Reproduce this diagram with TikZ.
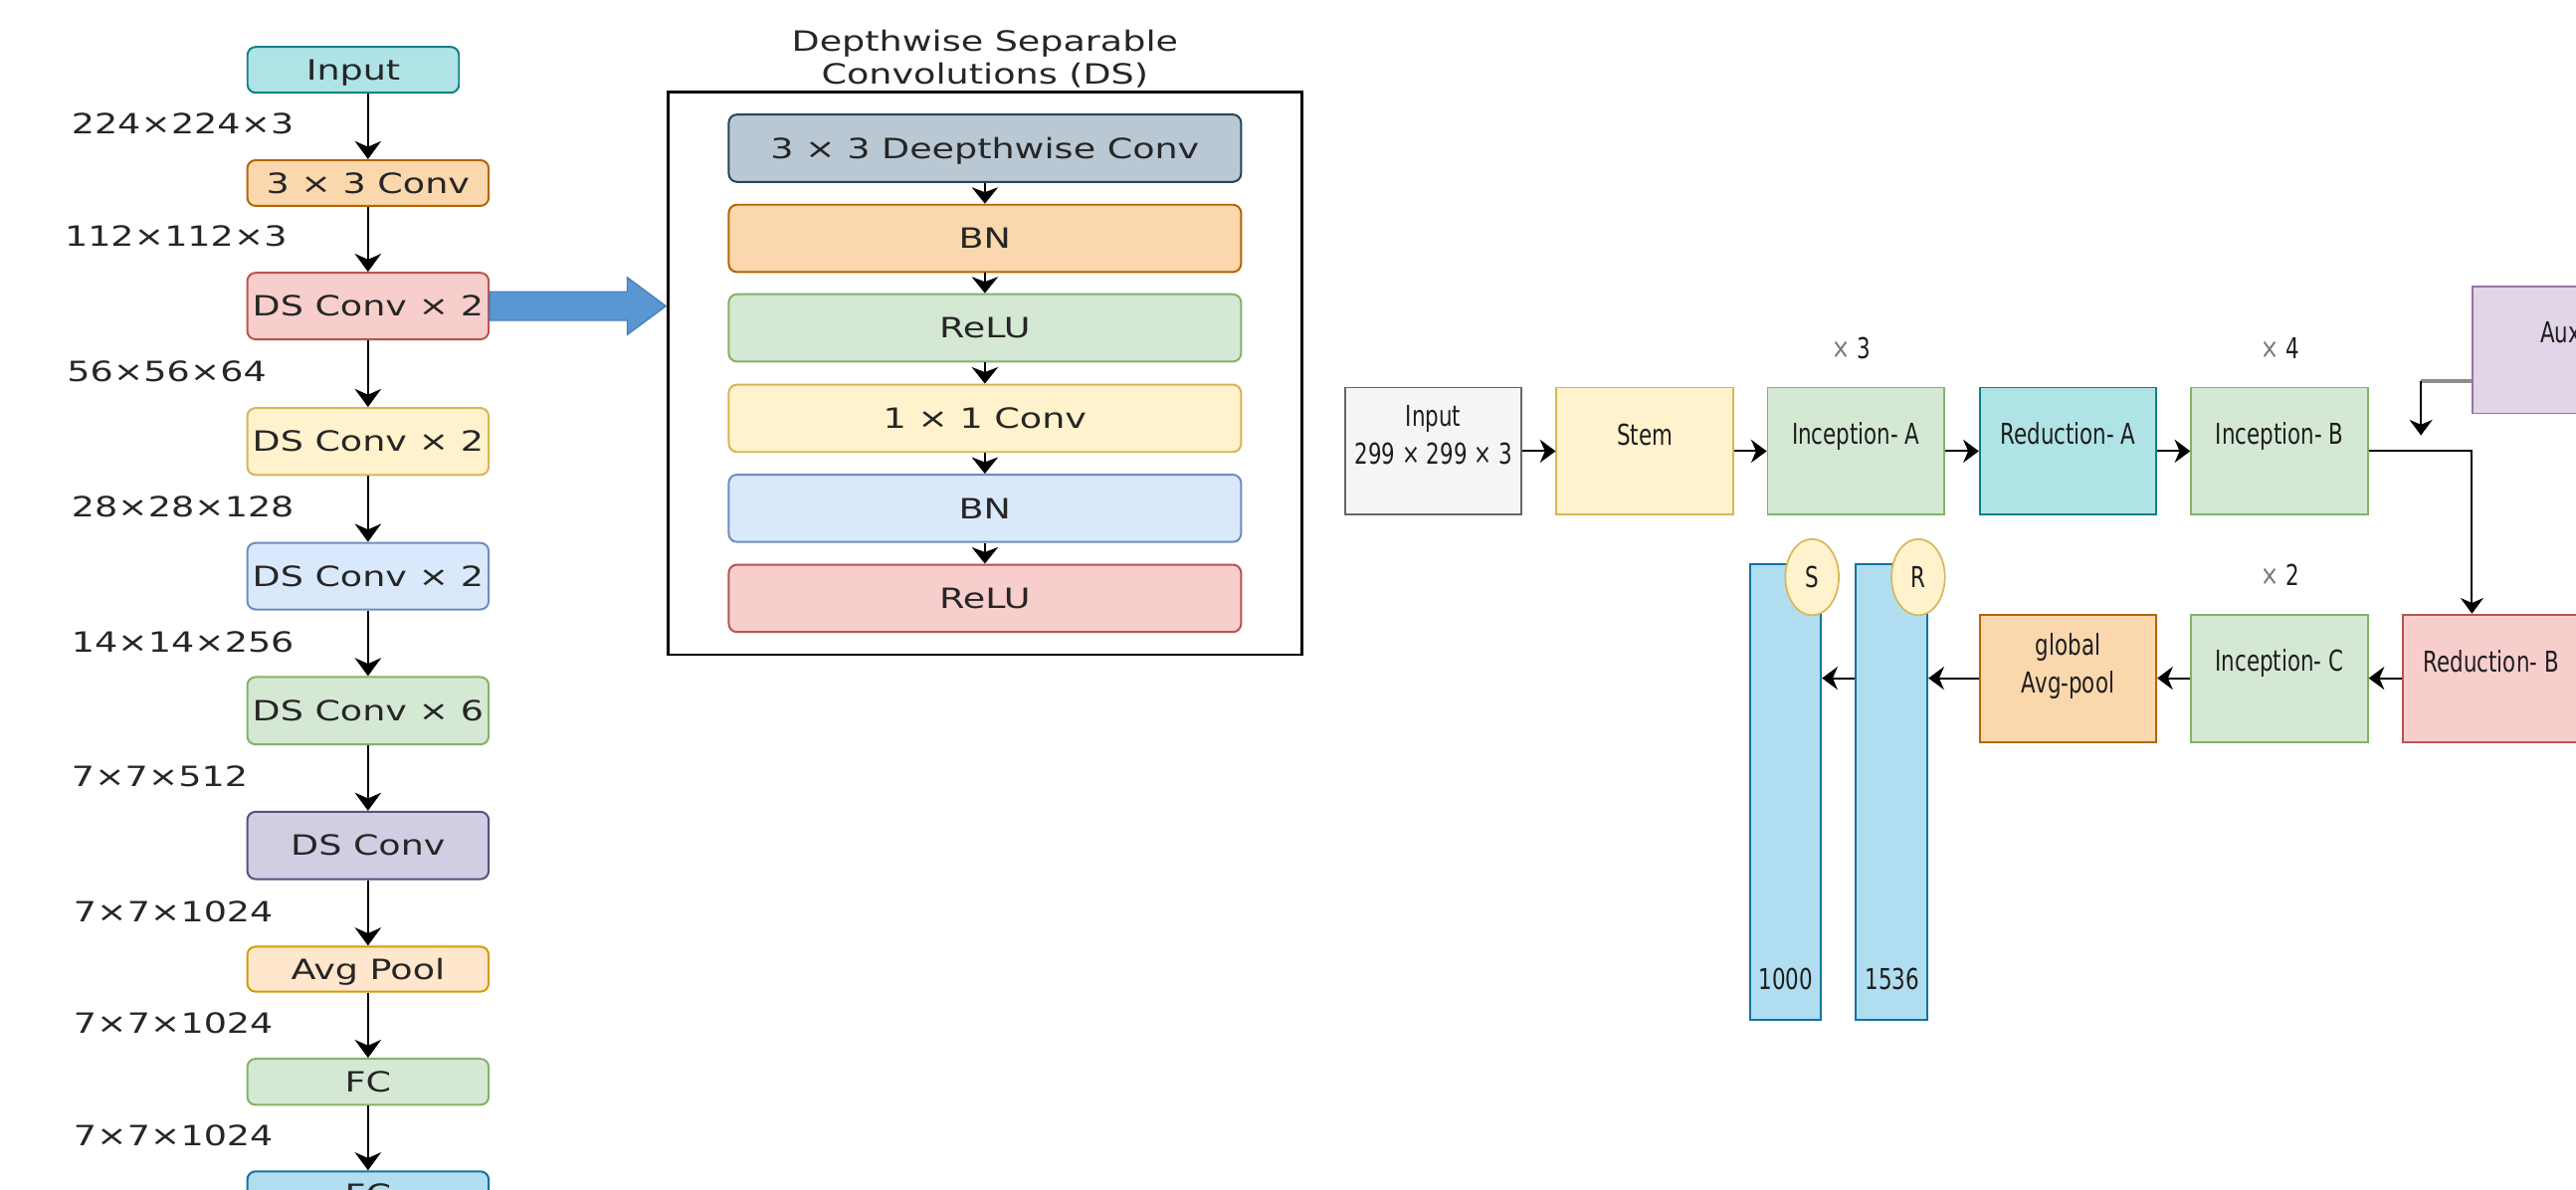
\documentclass[tikz,border=0pt]{standalone}
\usepackage{fontspec}
\setmainfont{DejaVu Sans}
\newfontfamily\widesans[FakeStretch=1.3]{DejaVu Sans}
\newfontfamily\narrowsans[FakeStretch=0.74]{DejaVu Sans}
\usetikzlibrary{arrows.meta,calc,shapes.geometric}

% fills and strokes
\definecolor{tealF}{HTML}{B0E3E6}\definecolor{tealD}{HTML}{0E8088}
\definecolor{orangeF}{HTML}{FAD7AC}\definecolor{orangeD}{HTML}{B46504}
\definecolor{redF}{HTML}{F8CECC}\definecolor{redD}{HTML}{B85450}
\definecolor{yelF}{HTML}{FFF2CC}\definecolor{yelD}{HTML}{D6B656}
\definecolor{bluF}{HTML}{DAE8FC}\definecolor{bluD}{HTML}{6C8EBF}
\definecolor{grnF}{HTML}{D5E8D4}\definecolor{grnD}{HTML}{82B366}
\definecolor{purF}{HTML}{D0CEE2}\definecolor{purD}{HTML}{56517E}
\definecolor{peachF}{HTML}{FFE6CC}\definecolor{peachD}{HTML}{D79B00}
\definecolor{skyF}{HTML}{B1DDF0}\definecolor{skyD}{HTML}{10739E}
\definecolor{slateF}{HTML}{BAC8D3}\definecolor{slateD}{HTML}{23445D}
\definecolor{grayF}{HTML}{F5F5F5}\definecolor{grayD}{HTML}{666666}
\definecolor{lilacF}{HTML}{E1D5E7}\definecolor{lilacD}{HTML}{9673A6}
\definecolor{bigarrF}{HTML}{5A96D2}\definecolor{bigarrD}{HTML}{4A7FB5}
\definecolor{txtL}{HTML}{262626}\definecolor{txtR}{HTML}{1E1E1E}
\definecolor{auxline}{HTML}{8C8C8C}\definecolor{multgray}{HTML}{777777}

\tikzset{
  lfont/.style={font=\widesans\fontsize{17}{19.7}\selectfont},
  rfont/.style={font=\narrowsans\fontsize{17.5}{23}\selectfont},
  lbox/.style={draw, rounded corners=5pt, line width=1.2pt, minimum width=146.9pt,
    inner sep=0pt, text height=12.4pt, text depth=0pt, text=txtL, lfont},
  ibox/.style={lbox, minimum width=311.8pt, minimum height=41pt},
  dimlabel/.style={anchor=west, inner sep=0pt, text height=12.4pt, text depth=0pt,
    text=txtL, lfont},
  rbox/.style={draw, line width=1.1pt, minimum width=107.5pt, minimum height=77.5pt,
    inner sep=0pt},
  rtext/.style={inner sep=0pt, text height=12.8pt, text depth=0pt, text=txtR, rfont},
  rmulti/.style={inner sep=0pt, align=center, text=txtR, rfont},
  bar/.style={draw=skyD, fill=skyF, line width=1.1pt, minimum width=43pt,
    minimum height=277.2pt, inner sep=0pt},
  badge/.style={ellipse, draw=yelD, fill=yelF, line width=1pt, minimum width=32.5pt,
    minimum height=46.4pt, inner sep=0pt, text height=12.8pt, text depth=0pt,
    text=txtR, rfont},
  larr/.style={line width=1.4pt, -{Stealth[length=11pt,width=16pt,inset=3.5pt]}},
  iarr/.style={line width=1.3pt, -{Stealth[length=10pt,width=16pt,inset=3pt]}},
  rarr/.style={line width=1.2pt, -{Stealth[length=9.5pt,width=14pt,inset=3pt]}},
}

\begin{document}
\begin{tikzpicture}[x=1pt,y=-1pt]
\fill[white] (0,0) rectangle (1568,724);
\path[use as bounding box] (0,0) rectangle (1568,724);

% ---------------- MobileNet column ----------------
\node[lbox, fill=tealF, draw=tealD, minimum width=128.7pt, minimum height=27.9pt] (inp) at (215,42.5) {Input};
\node[lbox, fill=orangeF, draw=orangeD, minimum height=27.8pt] (conv) at (224,111.4) {3 × 3 Conv};
\node[lbox, fill=redF, draw=redD, minimum height=40.5pt] (dsa) at (224,186.3) {DS Conv × 2};
\node[lbox, fill=yelF, draw=yelD, minimum height=40.7pt] (dsb) at (224,268.7) {DS Conv × 2};
\node[lbox, fill=bluF, draw=bluD, minimum height=40.5pt] (dsc) at (224,350.7) {DS Conv × 2};
\node[lbox, fill=grnF, draw=grnD, minimum height=41pt] (dsd) at (224,432.6) {DS Conv × 6};
\node[lbox, fill=purF, draw=purD, minimum height=41pt] (dse) at (224,514.6) {DS Conv};
\node[lbox, fill=peachF, draw=peachD, minimum height=27.4pt] (avg) at (224,589.9) {Avg Pool};
\node[lbox, fill=grnF, draw=grnD, minimum height=28pt] (fca) at (224,658.5) {FC};
\node[lbox, fill=skyF, draw=skyD, minimum height=28pt] (fcb) at (224,727) {FC};

\draw[larr] (conv.north |- inp.south) -- (conv.north);
\draw[larr] (conv.south) -- (dsa.north);
\draw[larr] (dsa.south) -- (dsb.north);
\draw[larr] (dsb.south) -- (dsc.north);
\draw[larr] (dsc.south) -- (dsd.north);
\draw[larr] (dsd.south) -- (dse.north);
\draw[larr] (dse.south) -- (avg.north);
\draw[larr] (avg.south) -- (fca.north);
\draw[larr] (fca.south) -- (fcb.north);

\node[dimlabel] (d1) at (43.3,75.4) {224×224×3};
\node[dimlabel] (d2) at (39.2,143.9) {112×112×3};
\node[dimlabel] (d3) at (40.6,226.3) {56×56×64};
\node[dimlabel] (d4) at (43.3,308.7) {28×28×128};
\node[dimlabel] (d5) at (43.3,390.6) {14×14×256};
\node[dimlabel] (d6) at (43.3,472.7) {7×7×512};
\node[dimlabel] (d7) at (44.6,554.8) {7×7×1024};
\node[dimlabel] (d8) at (44.6,622.6) {7×7×1024};
\node[dimlabel] (d9) at (44.6,691.1) {7×7×1024};

% ---------------- depthwise separable block ----------------
\node[draw=black, line width=1.5pt, minimum width=385.9pt, minimum height=342.5pt,
  inner sep=0pt] (dsbox) at (599.55,227.25) {};
\node[inner sep=0pt, align=center, text=txtL, lfont] (dstitle) at (599.5,35.7)
  {Depthwise Separable\\Convolutions (DS)};

\node[ibox, fill=slateF, draw=slateD] (k1) at (599.5,90.2) {3 × 3 Deepthwise Conv};
\node[ibox, fill=orangeF, draw=orangeD] (k2) at (599.5,145.1) {BN};
\node[ibox, fill=grnF, draw=grnD] (k3) at (599.5,199.6) {ReLU};
\node[ibox, fill=yelF, draw=yelD] (k4) at (599.5,254.6) {1 × 1 Conv};
\node[ibox, fill=bluF, draw=bluD] (k5) at (599.5,309.4) {BN};
\node[ibox, fill=redF, draw=redD] (k6) at (599.5,364.2) {ReLU};
\draw[iarr] (k1.south) -- (k2.north);
\draw[iarr] (k2.south) -- (k3.north);
\draw[iarr] (k3.south) -- (k4.north);
\draw[iarr] (k4.south) -- (k5.north);
\draw[iarr] (k5.south) -- (k6.north);

% block arrow pointing into the DS block
\filldraw[fill=bigarrF, draw=bigarrD, line width=0.8pt, line join=miter]
  (dsa.east) ++(0,-8.7) -- ++(83.8,0) -- ++(0,-8.7) -- ++(23.5,17.4)
  -- ++(-23.5,17.4) -- ++(0,-8.7) -- ++(-83.8,0) -- cycle;

% ---------------- Inception pipeline ----------------
\node[rbox, fill=grayF, draw=grayD] (rin) at (872.5,274.6) {};
\node[rmulti] (rint) at (872.5,265) {Input\\299 × 299 × 3};
\node[rbox, fill=yelF, draw=yelD] (stem) at (1001.2,274.6) {};
\node[rtext] (stemt) at (1001.2,264.5) {Stem};
\node[rbox, fill=grnF, draw=grnD] (inca) at (1129.7,274.6) {};
\node[rtext] (incat) at (1129.7,264) {Inception- A};
\node[rbox, fill=tealF, draw=tealD] (reda) at (1258.8,274.6) {};
\node[rtext] (redat) at (1258.8,263.8) {Reduction- A};
\node[rbox, fill=grnF, draw=grnD] (incb) at (1387.5,274.6) {};
\node[rtext] (incbt) at (1387.5,264) {Inception- B};

\node[rbox, fill=lilacF, draw=lilacD, minimum width=114.8pt, minimum height=77pt] (aux) at (1562.6,213.1) {};
\node[rtext, anchor=west] (auxt) at (1546,202.4) {Aux};

\node[rbox, fill=redF, draw=redD] (redb) at (1516.3,412.8) {};
\node[rtext] (redbt) at (1516.3,403) {Reduction- B};
\node[rbox, fill=grnF, draw=grnD] (incc) at (1387.5,412.8) {};
\node[rtext] (incct) at (1387.5,401.8) {Inception- C};
\node[rbox, fill=orangeF, draw=orangeD] (gap) at (1258.8,412.8) {};
\node[rmulti] (gapt) at (1258.8,405.3) {global\\Avg-pool};

\node[bar] (bars) at (1087,482.2) {};
\node[bar, minimum width=43.8pt] (barr) at (1151.4,482.2) {};
\node[badge] (cs) at (1103,351.3) {S};
\node[badge] (cr) at (1167.6,351.3) {R};
\node[rtext] (bst) at (1087,595.6) {1000};
\node[rtext] (brt) at (1151.8,595.6) {1536};

\node[rtext] (rep3) at (1127,212) {\textcolor{multgray}{×} 3};
\node[rtext] (rep4) at (1387.8,212.2) {\textcolor{multgray}{×} 4};
\node[rtext] (rep2) at (1387.8,350.3) {\textcolor{multgray}{×} 2};

\draw[rarr] (rin.east) -- (stem.west);
\draw[rarr] (stem.east) -- (inca.west);
\draw[rarr] (inca.east) -- (reda.west);
\draw[rarr] (reda.east) -- (incb.west);
\draw[rarr] (incb.east) -| (redb.north -| aux.west);

\coordinate (auxbend) at (1473.6,232.1);
\coordinate (auxin) at (1473.6,265);
\draw[line width=2.2pt, auxline] (aux.west |- auxbend) -- (auxbend);
\draw[rarr] (auxbend) -- (auxin);

\draw[rarr] (redb.west) -- (incc.east);
\draw[rarr] (incc.west) -- (gap.east);
\draw[rarr] (gap.west) -- (gap.west -| barr.east);
\draw[rarr] (gap.west -| barr.west) -- (gap.west -| bars.east);
\end{tikzpicture}
\end{document}
